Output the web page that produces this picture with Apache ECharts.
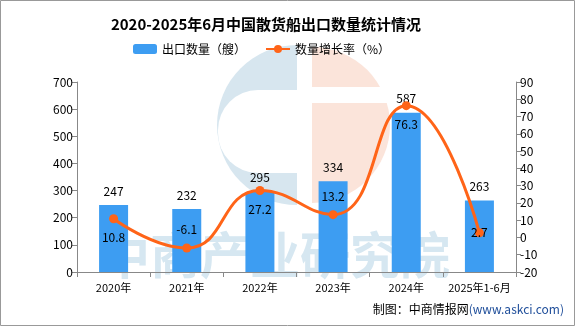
<!DOCTYPE html>
<html><head><meta charset="utf-8">
<script src="https://cdn.jsdelivr.net/npm/echarts@6/dist/echarts.min.js"></script>
<style>html,body{margin:0;padding:0;background:#fff}#c{width:576px;height:327px}</style>
</head><body><div id="c"></div>
<script>
const categories = ['2020年','2021年','2022年','2023年','2024年','2025年1-6月'];
const exportCount = [247, 232, 295, 334, 587, 263];
const growthRate = [10.8, -6.1, 27.2, 13.2, 76.3, 2.7];
const growthLabelPos = ['bottom','top','bottom','top','bottom','inside'];

const font = '"Noto Sans CJK SC", "DejaVu Sans", sans-serif';
const chart = echarts.init(document.getElementById('c'));
chart.setOption({
  animation: false,
  backgroundColor: '#fff',
  title: {
    text: '2020-2025年6月中国散货船出口数量统计情况',
    left: 261, top: 12, textAlign: 'center',
    textStyle: {fontSize: 15, fontWeight: 'bold', color: '#000', fontFamily: font}
  },
  legend: {
    top: 43, left: 133, padding: 0, itemGap: 19, itemWidth: 24, itemHeight: 10,
    textStyle: {fontSize: 12, color: '#000', fontFamily: font},
    data: ['出口数量（艘）', '数量增长率（%）']
  },
  graphic: [
    {type: 'rect', shape: {x: 0.5, y: 0.5, width: 574, height: 325}, style: {fill: 'none', stroke: '#999', lineWidth: 1}, z: 100},
    {type: 'sector', shape: {cx: 297, cy: 125, r: 80, r0: 0, startAngle: Math.PI/2, endAngle: Math.PI*3/2}, style: {fill: '#d7e6ef'}, z: -10},
    {type: 'rect', shape: {x: 218, y: 90, width: 79, height: 83, r: [40, 0, 0, 40]}, style: {fill: '#fff'}, z: -9},
    {type: 'sector', shape: {cx: 312, cy: 125, r: 78, r0: 0, startAngle: -Math.PI/2, endAngle: Math.PI/2}, style: {fill: '#fbe4da'}, z: -10},
    {type: 'rect', shape: {x: 312, y: 87, width: 80, height: 16}, style: {fill: '#fff'}, z: -9},
    {type: 'text', left: 100, top: 230, style: {text: '中商产业研究院', fontSize: 50, fontWeight: 'bold', fill: '#d6e7f1', fontFamily: font}, z: -5},
    {type: 'text', right: 12, top: 303, style: {rich: {a: {fontSize: 12, fill: '#000', fontFamily: font}, b: {fontSize: 12, fill: '#1f4e9a', fontFamily: font}}, text: '{a|制图：中商情报网}{b|(www.askci.com)}'}}
  ],
  grid: {left: 77, right: 60, top: 82, bottom: 55},
  xAxis: {
    type: 'category', data: categories,
    axisLine: {lineStyle: {color: '#888'}},
    axisTick: {show: true, lineStyle: {color: '#888'}},
    axisLabel: {color: '#000', fontSize: 11, fontFamily: font, margin: 10, interval: 0}
  },
  yAxis: [
    {type: 'value', min: 0, max: 700, interval: 100,
     axisLine: {show: true, lineStyle: {color: '#888'}},
     axisTick: {show: true, lineStyle: {color: '#888'}},
     splitLine: {show: false},
     axisLabel: {color: '#000', fontSize: 12, fontFamily: font, margin: 4}},
    {type: 'value', min: -20, max: 90, interval: 10,
     axisLine: {show: true, lineStyle: {color: '#888'}},
     axisTick: {show: true, lineStyle: {color: '#888'}},
     splitLine: {show: false},
     axisLabel: {color: '#000', fontSize: 12, fontFamily: font, margin: 4}}
  ],
  series: [
    {name: '出口数量（艘）', type: 'bar', data: exportCount, barWidth: 29,
     itemStyle: {color: '#3d9df2'},
     label: {show: true, position: 'top', distance: 8, color: '#000', fontSize: 12, fontFamily: font}},
    {name: '数量增长率（%）', type: 'line', yAxisIndex: 1, smooth: 0.5,
     data: growthRate.map((v, i) => ({value: v, label: {position: growthLabelPos[i]}})),
     symbol: 'circle', symbolSize: 9,
     lineStyle: {color: '#ff6418', width: 3},
     itemStyle: {color: '#ff6418'},
     label: {show: true, distance: 8, color: '#000', fontSize: 12, fontFamily: font}}
  ]
});
</script></body></html>
